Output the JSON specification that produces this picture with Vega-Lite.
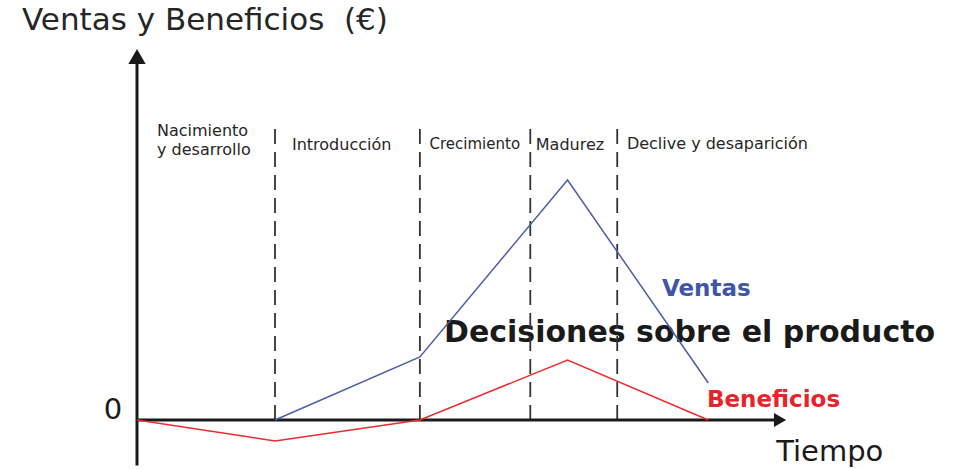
{
  "$schema": "https://vega.github.io/schema/vega-lite/v6.json",
  "width": 960,
  "height": 469,
  "autosize": {"type": "fit", "contains": "padding"},
  "padding": 0,
  "background": "white",
  "config": {"view": {"stroke": null}},
  "datasets": {
    "lines": [
      {"serie": "Ventas", "t": 10, "v": 0},
      {"serie": "Ventas", "t": 20.5, "v": 26.25},
      {"serie": "Ventas", "t": 31.2, "v": 100},
      {"serie": "Ventas", "t": 41.4, "v": 15.4},
      {"serie": "Beneficios", "t": 0, "v": 0},
      {"serie": "Beneficios", "t": 10, "v": -8.75},
      {"serie": "Beneficios", "t": 20.5, "v": 0},
      {"serie": "Beneficios", "t": 31.2, "v": 25},
      {"serie": "Beneficios", "t": 41.4, "v": 0}
    ],
    "phases": [
      {"t": 10, "v1": 0, "v2": 123},
      {"t": 20.5, "v1": 0, "v2": 123},
      {"t": 28.5, "v1": 0, "v2": 123},
      {"t": 34.8, "v1": 0, "v2": 123}
    ],
    "phaseLabels": [
      {"t": 1.45, "v": 120.4, "label": "Nacimiento"},
      {"t": 1.45, "v": 112.3, "label": "y desarrollo"},
      {"t": 11.23, "v": 114.6, "label": "Introducción"},
      {"t": 28.9, "v": 114.6, "label": "Madurez"},
      {"t": 35.5, "v": 115, "label": "Declive y desaparición"}
    ],
    "phaseLabelsSmall": [
      {"t": 21.2, "v": 115, "label": "Crecimiento"}
    ]
  },
  "encoding": {
    "x": {"type": "quantitative", "scale": {"domain": [-9.928, 59.64], "nice": false, "zero": false}, "axis": null},
    "y": {"type": "quantitative", "scale": {"domain": [-20.42, 175], "nice": false, "zero": false}, "axis": null}
  },
  "layer": [
    {
      "data": {"values": [{"label": "Ventas y Beneficios \u00a0(€)", "t": -8.33, "v": 166.3}]},
      "mark": {"type": "text", "align": "left", "baseline": "middle", "font": "DejaVu Sans", "fontSize": 31, "color": "#262626"},
      "encoding": {"x": {"field": "t"}, "y": {"field": "v"}, "text": {"field": "label"}}
    },
    {
      "data": {"values": [{"label": "0", "t": -1.74, "v": 4.2}, {"label": "Tiempo", "t": 50.2, "v": -13.3}]},
      "mark": {"type": "text", "align": "center", "baseline": "middle", "font": "DejaVu Sans", "fontSize": 29, "color": "#1a1a1a"},
      "encoding": {"x": {"field": "t"}, "y": {"field": "v"}, "text": {"field": "label"}}
    },
    {
      "data": {"name": "phaseLabels"},
      "mark": {"type": "text", "align": "left", "baseline": "middle", "font": "DejaVu Sans", "fontSize": 16, "color": "#262626"},
      "encoding": {"x": {"field": "t"}, "y": {"field": "v"}, "text": {"field": "label"}}
    },
    {
      "data": {"name": "phaseLabelsSmall"},
      "mark": {"type": "text", "align": "left", "baseline": "middle", "font": "DejaVu Sans", "fontSize": 15, "color": "#262626"},
      "encoding": {"x": {"field": "t"}, "y": {"field": "v"}, "text": {"field": "label"}}
    },
    {
      "data": {"values": [{"label": "Decisiones sobre el producto", "t": 22.25, "v": 36.3}]},
      "mark": {"type": "text", "align": "left", "baseline": "middle", "font": "DejaVu Sans", "fontWeight": "bold", "fontSize": 30, "color": "#1a1a1a"},
      "encoding": {"x": {"field": "t"}, "y": {"field": "v"}, "text": {"field": "label"}}
    },
    {
      "data": {"values": [{"label": "Ventas", "t": 38.04, "v": 54.6}]},
      "mark": {"type": "text", "align": "left", "baseline": "middle", "font": "DejaVu Sans", "fontWeight": "bold", "fontSize": 23, "color": "#3f56a6"},
      "encoding": {"x": {"field": "t"}, "y": {"field": "v"}, "text": {"field": "label"}}
    },
    {
      "data": {"values": [{"label": "Beneficios", "t": 41.3, "v": 8.3}]},
      "mark": {"type": "text", "align": "left", "baseline": "middle", "font": "DejaVu Sans", "fontWeight": "bold", "fontSize": 23, "color": "#e8232a"},
      "encoding": {"x": {"field": "t"}, "y": {"field": "v"}, "text": {"field": "label"}}
    },
    {
      "data": {"name": "phases"},
      "mark": {"type": "rule", "color": "#333333", "strokeWidth": 1.8, "strokeDash": [15, 8]},
      "encoding": {"x": {"field": "t"}, "y": {"field": "v1"}, "y2": {"field": "v2"}}
    },
    {
      "data": {"values": [{"t": 0, "v1": -19, "v2": 149}]},
      "mark": {"type": "rule", "color": "#1a1a1a", "strokeWidth": 3},
      "encoding": {"x": {"field": "t"}, "y": {"field": "v1"}, "y2": {"field": "v2"}}
    },
    {
      "data": {"values": [{"t1": 0, "t2": 46.2, "v": 0}]},
      "mark": {"type": "rule", "color": "#1a1a1a", "strokeWidth": 3},
      "encoding": {"x": {"field": "t1"}, "x2": {"field": "t2"}, "y": {"field": "v"}}
    },
    {
      "data": {"values": [{"t": 0, "v": 151.5}]},
      "mark": {"type": "point", "shape": "triangle-up", "filled": true, "color": "#1a1a1a", "size": 300, "opacity": 1},
      "encoding": {"x": {"field": "t"}, "y": {"field": "v"}}
    },
    {
      "data": {"values": [{"t": 46.6, "v": 0}]},
      "mark": {"type": "point", "shape": "triangle-right", "filled": true, "color": "#1a1a1a", "size": 200, "opacity": 1},
      "encoding": {"x": {"field": "t"}, "y": {"field": "v"}}
    },
    {
      "data": {"name": "lines"},
      "mark": {"type": "line", "strokeWidth": 1.5},
      "encoding": {
        "x": {"field": "t"},
        "y": {"field": "v"},
        "color": {"field": "serie", "type": "nominal", "scale": {"domain": ["Ventas", "Beneficios"], "range": ["#4a5eab", "#ee2b2f"]}, "legend": null}
      }
    }
  ]
}
